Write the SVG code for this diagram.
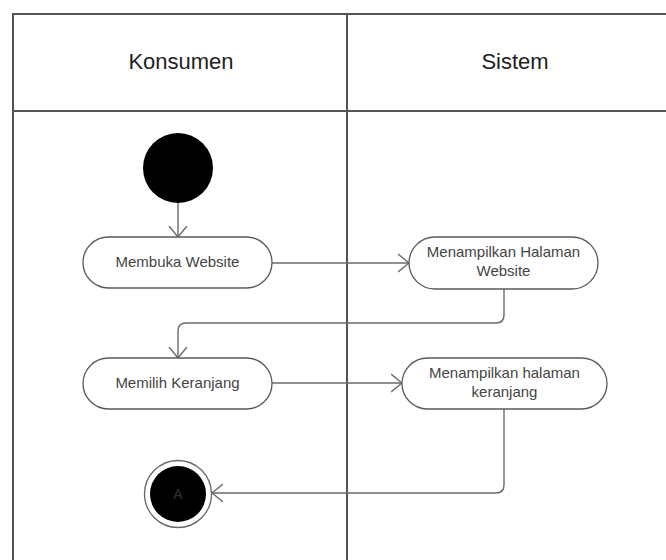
<svg xmlns="http://www.w3.org/2000/svg" width="666" height="560" viewBox="0 0 666 560">
  <style>
    .lane { fill: none; stroke: #555; stroke-width: 2; }
    .hdr { font-family: "Liberation Sans", Arial, sans-serif; font-size: 22px; fill: #1e1e1e; text-anchor: middle; }
    .act rect { fill: #fff; stroke: #5a5a5a; stroke-width: 1.3; }
    .act text { font-family: "Liberation Sans", Arial, sans-serif; font-size: 15px; fill: #444; text-anchor: middle; }
    .edge { fill: none; stroke: #6a6a6a; stroke-width: 1.4; }
  </style>
  <defs>
    <marker id="open" viewBox="0 0 12 20" refX="11" refY="10" markerWidth="12" markerHeight="20" markerUnits="userSpaceOnUse" orient="auto">
      <path d="M0,1 L11,10 L0,19" fill="none" stroke="#6a6a6a" stroke-width="1.4"/>
    </marker>
  </defs>
  <rect width="666" height="560" fill="#fff"/>

  <!-- swimlane frame -->
  <g id="lanes">
    <path class="lane" d="M667,14 H13 V561"/>
    <path class="lane" d="M13,111 H667"/>
    <path class="lane" d="M347,14 V561"/>
    <text class="hdr" x="181" y="69">Konsumen</text>
    <text class="hdr" x="515" y="69">Sistem</text>
  </g>

  <!-- connectors -->
  <g id="connectors">
    <path class="edge" d="M178,203 V237" marker-end="url(#open)"/>
    <path class="edge" d="M272,263 H409" marker-end="url(#open)"/>
    <path class="edge" d="M504,289 V315 Q504,323 496,323 H186 Q178,323 178,331 V358" marker-end="url(#open)"/>
    <path class="edge" d="M272,383 H402" marker-end="url(#open)"/>
    <path class="edge" d="M504,409 V485 Q504,493 496,493 H212" marker-end="url(#open)"/>
  </g>

  <g id="start">
    <circle cx="178" cy="168" r="35" fill="#000"/>
  </g>

  <g id="membuka-website" class="act">
    <rect x="83" y="237" width="189" height="51" rx="25.5"/>
    <text x="177.5" y="267">Membuka Website</text>
  </g>

  <g id="menampilkan-halaman-website" class="act">
    <rect x="409" y="237" width="189" height="52" rx="26"/>
    <text x="503.5" y="257">Menampilkan Halaman</text>
    <text x="503.5" y="276">Website</text>
  </g>

  <g id="memilih-keranjang" class="act">
    <rect x="83" y="358" width="189" height="51" rx="25.5"/>
    <text x="177.5" y="388">Memilih Keranjang</text>
  </g>

  <g id="menampilkan-halaman-keranjang" class="act">
    <rect x="402" y="358" width="205" height="51" rx="25.5"/>
    <text x="504.5" y="378">Menampilkan halaman</text>
    <text x="504.5" y="397">keranjang</text>
  </g>

  <g id="end">
    <circle cx="178" cy="494" r="33.5" fill="#fff" stroke="#666" stroke-width="1.3"/>
    <circle cx="178" cy="494" r="28" fill="#000"/>
    <text x="178" y="499" font-family="Liberation Sans, Arial, sans-serif" font-size="14" fill="#333" text-anchor="middle">A</text>
  </g>
</svg>
